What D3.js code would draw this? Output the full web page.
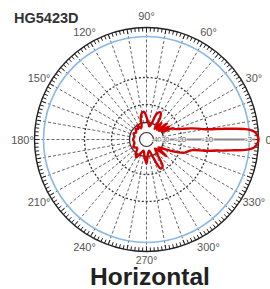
<!DOCTYPE html>
<html><head><meta charset="utf-8">
<script src="https://cdn.jsdelivr.net/npm/d3@7"></script>
<style>body{margin:0;background:#fff}svg{display:block}</style>
</head><body>
<script>
// ---- data ----
const title = "HG5423D";
const subtitle = "Horizontal";
const angleLabels = [0,30,60,90,120,150,180,210,240,270,300,330];
const dbLevels = [-40,-30,-20,-10,-3];
const dbLabels = ["-40","-30","-20","-10","-3"];
const patternAngles = [0,2,4,5,6,7,8,10,12,14,17,20,23,26,30,34,38,43,48,53,58,63,68,73,78,84,90,95,100,105,110,116,122,128,135,145,155,165,180,195,210,222,232,240,248,256,263,270,276,283,290,296,301,307,314,320,326,332,337,341,344,347,349,351,352,353,354,355,356,358];
const patternDb =     [0,-0.3,-1.2,-2.2,-3.6,-5.5,-7.5,-11,-13.5,-16,-19.5,-22.5,-23.5,-30,-25,-32,-25,-33,-27,-34,-25,-22.5,-24,-31,-34,-30,-27,-24,-24.5,-27,-33,-35,-30,-34,-32,-35,-33,-35,-34,-35,-32,-35,-30,-28,-33,-36,-30,-26,-33,-36,-29,-21.5,-22,-30,-35,-25,-33,-28,-22,-18,-17,-15.5,-11,-8.5,-7,-5.5,-3.6,-2.2,-1.2,-0.3];

const W = 270, H = 289, cx = 146.5, cy = 139.5, R = 112;
const svg = d3.select("body").append("svg").attr("width", W).attr("height", H);
const r = d3.scaleLinear().domain([-40,-30,-20,-10,-3,0]).range([8,17,35,62,103,R]);
const g = svg.append("g").attr("transform", `translate(${cx},${cy})`);
const rad = a => a * Math.PI / 180;
const font = "Liberation Sans, Arial, sans-serif";

// radial dashed spokes every 10°
d3.range(0, 360, 10).forEach(a => {
  g.append("line")
    .attr("x1", r(-30) * Math.cos(rad(a))).attr("y1", -r(-30) * Math.sin(rad(a)))
    .attr("x2", (R - 1) * Math.cos(rad(a))).attr("y2", -(R - 1) * Math.sin(rad(a)))
    .attr("stroke", "#666").attr("stroke-width", 1).attr("stroke-dasharray", "3,2");
});

// dB circles
g.append("circle").attr("r", r(-10)).attr("fill", "none").attr("stroke", "#333").attr("stroke-width", 1.3).attr("stroke-dasharray", "2,2");
g.append("circle").attr("r", r(-20)).attr("fill", "none").attr("stroke", "#333").attr("stroke-width", 1.3).attr("stroke-dasharray", "2,2");
g.append("circle").attr("r", r(-30)).attr("fill", "none").attr("stroke", "#333").attr("stroke-width", 1.3);
g.append("circle").attr("r", r(-3)).attr("fill", "none").attr("stroke", "#8ab8e6").attr("stroke-width", 1.6);

// outer ring with ticks
g.append("circle").attr("r", R).attr("fill", "none").attr("stroke", "#222").attr("stroke-width", 1.4);
d3.range(0, 360, 2).forEach(a => {
  const len = a % 10 === 0 ? 5 : 4;
  g.append("line")
    .attr("x1", R * Math.cos(rad(a))).attr("y1", -R * Math.sin(rad(a)))
    .attr("x2", (R - len) * Math.cos(rad(a))).attr("y2", -(R - len) * Math.sin(rad(a)))
    .attr("stroke", "#222").attr("stroke-width", 1);
});

// horizontal gray axis
g.append("line").attr("x1", 0).attr("y1", 0).attr("x2", R - 3).attr("y2", 0)
  .attr("stroke", "#888").attr("stroke-width", 2);

// pattern
const pts = patternAngles.map((a, i) => ({a, db: patternDb[i]}));
const line = d3.lineRadial()
  .angle(d => rad(90 - d.a))
  .radius(d => r(d.db))
  .curve(d3.curveCatmullRomClosed.alpha(0.5));
g.append("path").attr("d", line(pts)).attr("fill", "none")
  .attr("stroke", "#d40000").attr("stroke-width", 2.4).attr("stroke-linejoin", "round");

// center white circle
g.append("circle").attr("r", 7).attr("fill", "#fff").attr("stroke", "#333").attr("stroke-width", 1.2);

// db labels
const dbOffset = [2, 1, -1, -1, -1];
dbLevels.forEach((v, i) => {
  g.append("text").attr("x", r(v) + dbOffset[i]).attr("y", 2.5)
    .attr("text-anchor", "middle").attr("font-family", font)
    .attr("font-size", i < 2 ? 6.5 : 8).attr("fill", "#555")
    .attr("stroke", "#fff").attr("stroke-width", 1.5).attr("paint-order", "stroke")
    .text(dbLabels[i]);
});

// angle labels
angleLabels.forEach(a => {
  const rr = a === 270 ? 120 : 124;
  g.append("text")
    .attr("x", rr * Math.cos(rad(a))).attr("y", -rr * Math.sin(rad(a)) + 4)
    .attr("text-anchor", a === 0 ? "start" : "middle").attr("dx", a === 0 ? -5 : 0)
    .attr("font-family", font)
    .attr("font-size", a === 270 ? 10.5 : 11).attr("fill", "#555")
    .text(a + "°");
});

// titles
svg.append("text").attr("x", 14).attr("y", 23)
  .attr("font-family", font).attr("font-weight", "bold")
  .attr("font-size", 14.5).attr("fill", "#333").text(title);
svg.append("text").attr("x", 150).attr("y", 285).attr("text-anchor", "middle")
  .attr("font-family", font).attr("font-weight", "bold")
  .attr("font-size", 24.5).attr("fill", "#222").text(subtitle);
</script>
</body></html>
